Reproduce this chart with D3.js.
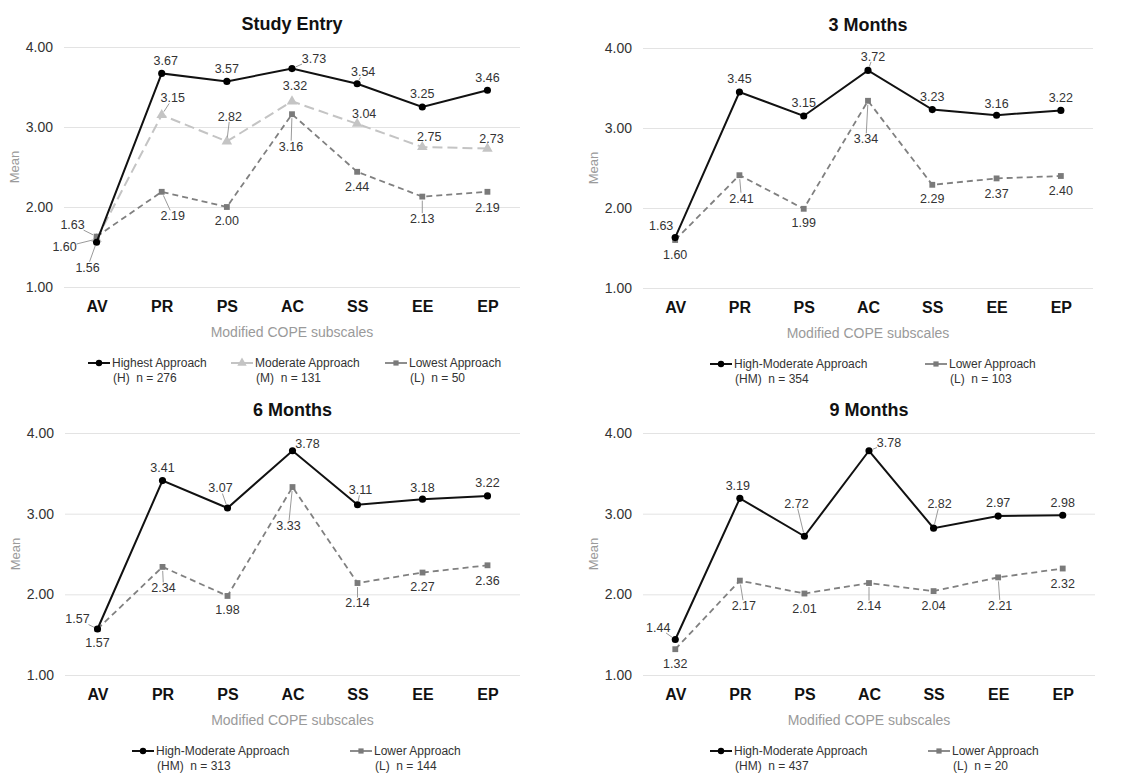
<!DOCTYPE html>
<html>
<head>
<meta charset="utf-8">
<script src="https://cdn.jsdelivr.net/npm/d3@7"></script>
<style>
body { margin: 0; background: #fff; }
svg { font-family: "Liberation Sans", Arial, Helvetica, sans-serif; }
</style>
</head>
<body>
<script>
// ---- data ----
let categories = ["AV", "PR", "PS", "AC", "SS", "EE", "EP"]
let yTicks = [1, 2, 3, 4]

let entryHighest  = [1.56, 3.67, 3.57, 3.73, 3.54, 3.25, 3.46]
let entryModerate = [1.60, 3.15, 2.82, 3.32, 3.04, 2.75, 2.73]
let entryLowest   = [1.63, 2.19, 2.00, 3.16, 2.44, 2.13, 2.19]

let m3HighMod = [1.63, 3.45, 3.15, 3.72, 3.23, 3.16, 3.22]
let m3Lower   = [1.60, 2.41, 1.99, 3.34, 2.29, 2.37, 2.40]

let m6HighMod = [1.57, 3.41, 3.07, 3.78, 3.11, 3.18, 3.22]
let m6Lower   = [1.57, 2.34, 1.98, 3.33, 2.14, 2.27, 2.36]

let m9HighMod = [1.44, 3.19, 2.72, 3.78, 2.82, 2.97, 2.98]
let m9Lower   = [1.32, 2.17, 2.01, 2.14, 2.04, 2.21, 2.32]

// ---- data label placement (offset from the point, third item = leader line) ----
let entryHighestLab  = [[-9,25,1],[4,-13],[0,-13],[22,-10,1],[6,-12,1],[0,-13],[0,-13]]
let entryModerateLab = [[-32,8,1],[11,-17,1],[3,-25,1],[3,-16],[7,-10],[7,-10],[4,-10]]
let entryLowestLab   = [[-24,-12,1],[11,24,1],[0,14],[-1,32,1],[0,15],[0,22,1],[0,16]]
let m3HighModLab = [[-14,-12],[0,-13],[0,-13],[5,-14,1],[0,-13],[0,-12],[0,-13]]
let m3LowerLab   = [[0,15],[2,23,1],[0,14],[-2,38,1],[0,14],[0,15],[0,15]]
let m6HighModLab = [[-20,-10,1],[0,-13],[-7,-20,1],[15,-7,1],[3,-15,1],[0,-12],[0,-13]]
let m6LowerLab   = [[0,14],[1,21,1],[0,14],[-4,39,1],[0,20,1],[0,14],[0,15]]
let m9HighModLab = [[-17,-12,1],[-2,-13],[-8,-33,1],[20,-8,1],[6,-25,1],[0,-13],[0,-13]]
let m9LowerLab   = [[0,14],[4,25,1],[0,15],[0,23,1],[0,15],[2,28,1],[0,15]]

let width = 1145
let height = 773

let styles = {
    high: { color: '#111', width: 2, dash: null, marker: d3.symbolCircle, size: 40, fill: '#000' },
    mod:  { color: '#c4c4c4', width: 2, dash: '10,5', marker: d3.symbolTriangle, size: 48, fill: '#c4c4c4' },
    low:  { color: '#808080', width: 1.8, dash: '6,4', marker: d3.symbolSquare, size: 34, fill: '#7a7a7a' }
}

let panels = [
    { title: 'Study Entry', left: 64, right: 520, top: 47, bottom: 287,
      series: [
        { values: entryModerate, labels: entryModerateLab, style: 'mod' },
        { values: entryLowest, labels: entryLowestLab, style: 'low' },
        { values: entryHighest, labels: entryHighestLab, style: 'high' }
      ],
      legend: [
        { x: 88, style: 'high', l1: 'Highest Approach', l2: '(H)  n = 276' },
        { x: 231, style: 'mod', l1: 'Moderate Approach', l2: '(M)  n = 131' },
        { x: 385, style: 'low', l1: 'Lowest Approach', l2: '(L)  n = 50' }
      ] },
    { title: '3 Months', left: 643, right: 1093, top: 48, bottom: 288,
      series: [
        { values: m3Lower, labels: m3LowerLab, style: 'low' },
        { values: m3HighMod, labels: m3HighModLab, style: 'high' }
      ],
      legend: [
        { x: 710, style: 'high', l1: 'High-Moderate Approach', l2: '(HM)  n = 354' },
        { x: 925, style: 'low', l1: 'Lower Approach', l2: '(L)  n = 103' }
      ] },
    { title: '6 Months', left: 65, right: 520, top: 433, bottom: 675,
      series: [
        { values: m6Lower, labels: m6LowerLab, style: 'low' },
        { values: m6HighMod, labels: m6HighModLab, style: 'high' }
      ],
      legend: [
        { x: 132, style: 'high', l1: 'High-Moderate Approach', l2: '(HM)  n = 313' },
        { x: 350, style: 'low', l1: 'Lower Approach', l2: '(L)  n = 144' }
      ] },
    { title: '9 Months', left: 643, right: 1095, top: 433, bottom: 675,
      series: [
        { values: m9Lower, labels: m9LowerLab, style: 'low' },
        { values: m9HighMod, labels: m9HighModLab, style: 'high' }
      ],
      legend: [
        { x: 710, style: 'high', l1: 'High-Moderate Approach', l2: '(HM)  n = 437' },
        { x: 928, style: 'low', l1: 'Lower Approach', l2: '(L)  n = 20' }
      ] }
]

let svg = d3.select('body').append('svg')
    .attr('width', width)
    .attr('height', height)

panels.forEach(drawPanel)

function drawPanel(p) {
    let g = svg.append('g')

    let x = d3.scalePoint().domain(categories).range([p.left, p.right]).padding(0.5)
    let y = d3.scaleLinear().domain([1, 4]).range([p.bottom, p.top])
    let cx = (p.left + p.right) / 2

    // gridlines + y labels
    let yAxis = d3.axisLeft(y).tickValues(yTicks).tickFormat(d3.format('.2f'))
        .tickSize(-(p.right - p.left)).tickPadding(11)
    let ya = g.append('g').attr('transform', 'translate(' + p.left + ',0)').call(yAxis)
    ya.select('.domain').remove()
    ya.selectAll('.tick line').attr('stroke', '#e3e3e3').attr('stroke-width', 1)
    ya.selectAll('.tick text').attr('font-size', 14).attr('fill', '#333')
        .attr('font-family', '"Liberation Sans", Arial, sans-serif')

    // category axis
    let xAxis = d3.axisBottom(x).tickSize(0).tickPadding(14)
    let xa = g.append('g').attr('transform', 'translate(0,' + p.bottom + ')').call(xAxis)
    xa.select('.domain').remove()
    xa.selectAll('.tick text').attr('font-size', 16).attr('font-weight', 'bold').attr('fill', '#111')
        .attr('font-family', '"Liberation Sans", Arial, sans-serif')

    g.append('text')
        .attr('x', cx).attr('y', p.top - 17)
        .attr('text-anchor', 'middle')
        .attr('font-size', 18).attr('font-weight', 'bold').attr('fill', '#111')
        .text(p.title)

    g.append('text')
        .attr('x', cx).attr('y', p.bottom + 50)
        .attr('text-anchor', 'middle')
        .attr('font-size', 14).attr('fill', '#9a9a9a')
        .text('Modified COPE subscales')

    g.append('text')
        .attr('transform', 'translate(' + (p.left - 45) + ',' + ((p.top + p.bottom) / 2) + ') rotate(-90)')
        .attr('text-anchor', 'middle')
        .attr('font-size', 13).attr('fill', '#9a9a9a')
        .text('Mean')

    let line = d3.line()
        .x(function (d, i) { return x(categories[i]) })
        .y(function (d) { return y(d) })

    p.series.forEach(function (s) {
        let st = styles[s.style]
        g.append('path')
            .datum(s.values)
            .attr('d', line)
            .attr('fill', 'none')
            .attr('stroke', st.color)
            .attr('stroke-width', st.width)
            .attr('stroke-dasharray', st.dash)

        g.selectAll(null)
            .data(s.values)
            .enter().append('path')
            .attr('d', d3.symbol().type(st.marker).size(st.size))
            .attr('transform', function (d, i) { return 'translate(' + x(categories[i]) + ',' + y(d) + ')' })
            .attr('fill', st.fill)
    })

    // data labels after all lines so they sit on top
    p.series.forEach(function (s) {
        s.values.forEach(function (v, i) {
            let px = x(categories[i]), py = y(v)
            let off = s.labels[i]
            let dx = off[0], dy = off[1]
            if (off[2]) {
                let len = Math.sqrt(dx * dx + dy * dy)
                let sc = Math.min(dx ? 12 / Math.abs(dx) : 99, dy ? 5.5 / Math.abs(dy) : 99)
                let f = 1 - sc
                if (f * len > 5) {
                    g.append('line')
                        .attr('x1', px + dx / len * 4).attr('y1', py + dy / len * 4)
                        .attr('x2', px + dx * f).attr('y2', py + dy * f)
                        .attr('stroke', '#9a9a9a').attr('stroke-width', 1)
                }
            }
            g.append('text')
                .attr('x', px + dx).attr('y', py + dy)
                .attr('dy', '0.35em')
                .attr('text-anchor', 'middle')
                .attr('font-size', 12.5).attr('fill', '#333')
                .text(d3.format('.2f')(v))
        })
    })

    // legend
    let ly = p.bottom + 76
    p.legend.forEach(function (l) {
        let st = styles[l.style]
        g.append('line')
            .attr('x1', l.x).attr('x2', l.x + 22)
            .attr('y1', ly).attr('y2', ly)
            .attr('stroke', st.color).attr('stroke-width', st.width)
        g.append('path')
            .attr('d', d3.symbol().type(st.marker).size(st.size * 0.8))
            .attr('transform', 'translate(' + (l.x + 11) + ',' + ly + ')')
            .attr('fill', st.fill)
        let t = g.append('text')
            .attr('x', l.x + 24).attr('y', ly)
            .attr('font-size', 12).attr('fill', '#333')
            .style('white-space', 'pre')
        t.append('tspan').attr('x', l.x + 24).attr('dy', '0.35em').text(l.l1)
        t.append('tspan').attr('x', l.x + 25).attr('dy', '1.25em').text(l.l2)
    })
}
</script>
</body>
</html>
